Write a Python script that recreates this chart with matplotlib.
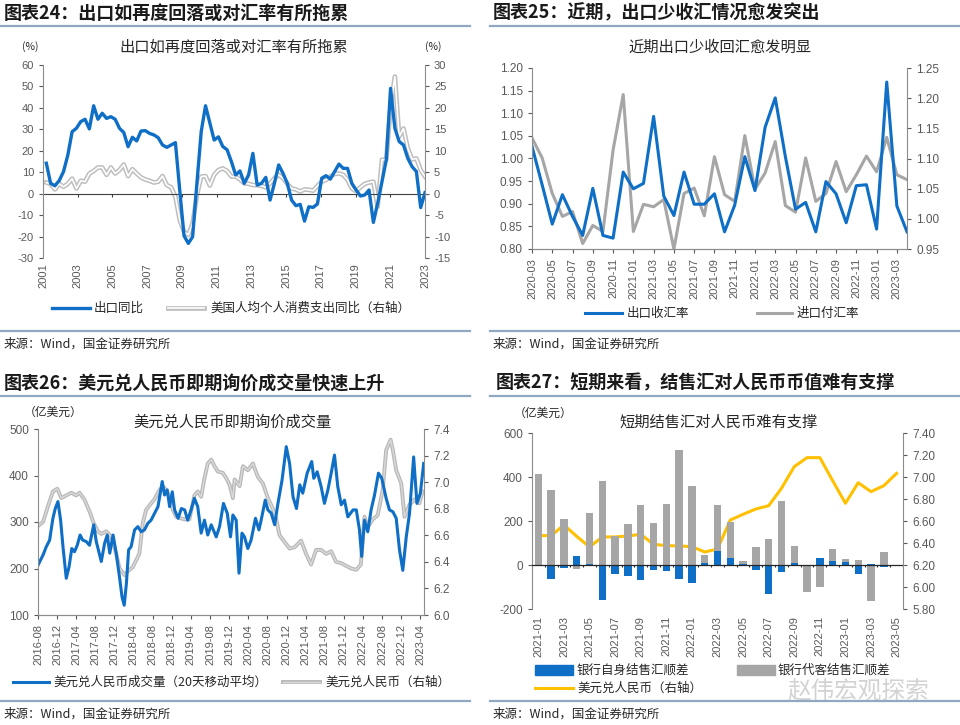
import matplotlib
matplotlib.use('Agg')
import matplotlib.pyplot as plt
import numpy as np
from matplotlib.lines import Line2D
from matplotlib.patches import Rectangle
from matplotlib.ticker import FormatStrFormatter

plt.rcParams['font.family'] = ['Liberation Sans', 'Noto Sans CJK SC']
plt.rcParams['axes.unicode_minus'] = False

# ---------------- 图表24 data (quarterly, 2001Q1 - 2023Q1)
year_labels = [str(y) for y in range(2001, 2024, 2)]
export_yoy = [14.2, 4.8, 3.7, 6.1, 10.3, 18.0, 28.9, 30.5, 33.6, 34.7,
              30.2, 41.0, 34.7, 37.5, 35.1, 35.9, 34.7, 30.5, 28.5, 21.9,
              26.3, 24.6, 29.2, 29.4, 28.1, 27.4, 26.1, 22.7, 21.6, 22.7,
              23.8, 1.7, -19.6, -23.2, -20.1, 5.0, 29.0, 41.0, 33.0, 25.0,
              26.5, 22.0, 20.5, 15.0, 8.7, 10.6, 4.8, 8.7, 18.8, 4.0,
              4.8, 7.6, -3.0, 4.8, 13.4, 9.5, 4.8, -3.0, -5.6, -5.0,
              -12.8, -6.1, -6.4, -4.8, 7.2, 8.4, 6.8, 10.3, 13.8, 11.8,
              11.8, 4.8, 1.7, -1.1, -0.6, 1.7, -13.4, -4.5, 5.6, 15.7,
              49.1, 30.5, 24.3, 22.7, 16.5, 12.6, 10.3, -6.5, 0.5]
us_pce_yoy = [2.6, 2.3, 1.0, 2.3, 1.6, 2.3, 3.5, 1.2, 3.0, 2.8,
              4.7, 5.3, 6.1, 6.1, 4.4, 6.1, 4.7, 5.5, 6.8, 4.1,
              5.7, 4.7, 3.8, 3.3, 3.0, 2.6, 2.8, 4.1, 2.0, 1.5,
              -0.7, -6.1, -8.9, -9.6, -6.9, -0.3, 4.0, 4.1, 1.9, 4.4,
              5.5, 5.9, 5.3, 4.0, 4.0, 3.3, 2.4, 2.3, 2.0, 2.0,
              1.8, 1.5, 2.4, 3.6, 4.4, 3.6, 2.3, 1.2, 1.0, 0.5,
              1.0, 0.9, 0.7, 1.8, 2.8, 3.2, 4.0, 4.6, 4.7, 4.4,
              3.2, 1.2, 0.6, 1.5, 2.3, 2.6, 2.8, -3.0, 7.9, 7.9,
              20.3, 27.3, 13.3, 15.2, 10.6, 8.0, 8.2, 5.5, 4.0]

# ---------------- 图表25 data (monthly, 2020-03 - 2023-04)
months25 = ['2020-03', '2020-04', '2020-05', '2020-06', '2020-07', '2020-08', '2020-09', '2020-10',
            '2020-11', '2020-12', '2021-01', '2021-02', '2021-03', '2021-04', '2021-05', '2021-06',
            '2021-07', '2021-08', '2021-09', '2021-10', '2021-11', '2021-12', '2022-01', '2022-02',
            '2022-03', '2022-04', '2022-05', '2022-06', '2022-07', '2022-08', '2022-09', '2022-10',
            '2022-11', '2022-12', '2023-01', '2023-02', '2023-03', '2023-04']
export_recv = [1.027, 0.942, 0.855, 0.920, 0.872, 0.830, 0.934, 0.830, 0.824, 0.970,
               0.933, 0.945, 1.093, 0.917, 0.874, 0.970, 0.899, 0.899, 0.922, 0.838,
               0.897, 1.004, 0.929, 1.069, 1.134, 1.004, 0.888, 0.903, 0.838, 0.949,
               0.922, 0.858, 0.940, 0.942, 0.844, 1.169, 0.895, 0.838]
import_pay = [1.134, 1.101, 1.042, 1.004, 1.012, 0.959, 0.989, 0.979, 1.114, 1.206,
              0.979, 1.024, 1.020, 1.032, 0.950, 1.042, 1.051, 1.005, 1.103, 1.040,
              1.029, 1.138, 1.049, 1.076, 1.128, 1.022, 1.011, 1.101, 1.029, 1.042,
              1.095, 1.045, 1.073, 1.104, 1.078, 1.135, 1.073, 1.065]

# ---------------- 图表26 data
vol_dates = ['2016-08-01', '2016-09-02', '2016-09-23', '2016-10-14', '2016-11-04', '2016-11-19',
             '2016-12-06', '2016-12-23', '2017-01-07', '2017-01-28', '2017-02-15', '2017-03-04',
             '2017-03-21', '2017-04-08', '2017-04-26', '2017-05-13', '2017-06-04', '2017-06-25',
             '2017-07-22', '2017-08-07', '2017-09-08', '2017-09-29', '2017-10-16', '2017-11-01',
             '2017-11-22', '2017-12-12', '2018-01-03', '2018-01-18', '2018-02-01', '2018-02-15',
             '2018-03-01', '2018-03-17', '2018-04-08', '2018-04-29', '2018-05-20', '2018-06-10',
             '2018-07-01', '2018-07-22', '2018-09-04', '2018-10-01', '2018-10-16', '2018-11-02',
             '2018-11-17', '2018-12-04', '2018-12-19', '2019-01-10', '2019-01-31', '2019-02-21',
             '2019-03-12', '2019-04-03', '2019-04-24', '2019-05-15', '2019-06-06', '2019-06-27',
             '2019-07-18', '2019-08-09', '2019-09-10', '2019-10-01', '2019-10-26', '2019-11-19',
             '2019-12-10', '2019-12-25', '2020-01-15', '2020-02-02', '2020-02-21', '2020-03-08',
             '2020-03-29', '2020-04-19', '2020-05-17', '2020-06-08', '2020-06-22', '2020-07-18',
             '2020-08-04', '2020-08-25', '2020-09-16', '2020-10-07', '2020-11-02', '2020-11-29',
             '2020-12-20', '2021-01-11', '2021-02-02', '2021-02-23', '2021-03-14', '2021-04-11',
             '2021-05-10', '2021-05-23', '2021-06-14', '2021-07-09', '2021-07-30', '2021-08-21',
             '2021-09-11', '2021-10-02', '2021-10-23', '2021-11-14', '2021-12-05', '2021-12-26',
             '2022-01-28', '2022-02-18', '2022-03-10', '2022-03-24', '2022-04-11', '2022-05-02',
             '2022-05-23', '2022-06-14', '2022-07-09', '2022-07-30', '2022-08-27', '2022-09-17',
             '2022-10-09', '2022-10-30', '2022-11-20', '2022-12-11', '2023-01-02', '2023-01-23',
             '2023-02-18', '2023-03-11', '2023-04-02', '2023-04-23']
spot_volume = [207, 229, 247, 261, 308, 329, 344, 304, 247, 179, 204, 243, 236, 250, 272, 261,
               258, 250, 294, 258, 215, 254, 272, 233, 272, 233, 179, 139, 121, 168, 240, 247,
               283, 290, 279, 283, 297, 304, 333, 387, 358, 369, 333, 365, 326, 308, 329, 326,
               304, 326, 351, 333, 276, 304, 272, 294, 268, 290, 340, 319, 268, 315, 304, 190,
               276, 268, 243, 261, 308, 283, 304, 347, 326, 319, 294, 340, 390, 462, 426, 354,
               329, 380, 362, 405, 430, 394, 408, 376, 340, 369, 405, 444, 376, 337, 347, 311,
               326, 326, 283, 226, 304, 279, 326, 358, 405, 394, 351, 326, 322, 308, 240, 196,
               268, 319, 440, 340, 362, 426]
fx_dates = ['2016-08-01', '2016-09-02', '2016-10-04', '2016-11-04', '2016-12-02', '2016-12-27',
            '2017-01-28', '2017-03-01', '2017-04-01', '2017-04-22', '2017-05-23', '2017-06-25',
            '2017-07-22', '2017-08-17', '2017-09-08', '2017-10-09', '2017-11-11', '2017-12-12',
            '2018-01-03', '2018-02-04', '2018-02-25', '2018-03-27', '2018-04-17', '2018-05-08',
            '2018-05-30', '2018-06-20', '2018-07-22', '2018-08-12', '2018-09-08', '2018-10-05',
            '2018-10-26', '2018-11-17', '2018-12-08', '2018-12-29', '2019-01-19', '2019-02-21',
            '2019-03-23', '2019-04-24', '2019-05-15', '2019-06-06', '2019-06-27', '2019-07-18',
            '2019-08-09', '2019-08-30', '2019-09-20', '2019-10-22', '2019-11-13', '2019-12-04',
            '2019-12-25', '2020-01-05', '2020-02-06', '2020-02-27', '2020-03-29', '2020-04-30',
            '2020-06-01', '2020-07-03', '2020-08-04', '2020-09-05', '2020-09-26', '2020-10-17',
            '2020-11-18', '2020-12-20', '2021-01-21', '2021-03-03', '2021-04-04', '2021-05-06',
            '2021-06-07', '2021-07-09', '2021-08-10', '2021-09-11', '2021-10-12', '2021-11-14',
            '2021-12-15', '2022-01-17', '2022-02-18', '2022-03-19', '2022-04-11', '2022-05-02',
            '2022-06-03', '2022-07-04', '2022-08-05', '2022-08-27', '2022-09-24', '2022-10-09',
            '2022-10-30', '2022-12-01', '2022-12-22', '2023-01-23', '2023-02-24', '2023-03-26',
            '2023-04-16']
usdcny_daily = [6.67, 6.70, 6.82, 6.93, 6.95, 6.88, 6.90, 6.92, 6.90, 6.92,
                6.87, 6.78, 6.69, 6.63, 6.61, 6.63, 6.59, 6.46, 6.35, 6.30,
                6.33, 6.36, 6.41, 6.46, 6.69, 6.79, 6.84, 6.87, 6.93, 6.97,
                6.94, 6.89, 6.79, 6.74, 6.73, 6.72, 6.72, 6.90, 6.93, 6.89,
                7.03, 7.14, 7.17, 7.12, 7.08, 7.07, 7.03, 6.98, 6.88, 7.02,
                6.97, 7.12, 7.09, 7.14, 7.04, 6.99, 6.88, 6.80, 6.72, 6.60,
                6.55, 6.50, 6.51, 6.56, 6.46, 6.38, 6.49, 6.49, 6.46, 6.48,
                6.40, 6.39, 6.37, 6.35, 6.34, 6.38, 6.74, 6.66, 6.72, 6.75,
                6.94, 7.24, 7.32, 7.24, 7.09, 6.99, 6.74, 6.83, 6.87, 6.84, 6.93]

# ---------------- 图表27 data (monthly, 2021-01 - 2023-05)
months27 = ['2021-01', '2021-02', '2021-03', '2021-04', '2021-05', '2021-06', '2021-07', '2021-08',
            '2021-09', '2021-10', '2021-11', '2021-12', '2022-01', '2022-02', '2022-03', '2022-04',
            '2022-05', '2022-06', '2022-07', '2022-08', '2022-09', '2022-10', '2022-11', '2022-12',
            '2023-01', '2023-02', '2023-03', '2023-04', '2023-05']
bank_own = [0, -62, -14, 39, 6, -158, -39, -51, -67, -24, -27, -65, -82, 11,
            62, 32, 6, -23, -130, -32, 8, 0, 33, 17, 14, -42, 3, -7]
bank_client = [415, 342, 208, -18, 236, 380, 130, 185, 274, 190, 279, 521, 359, 47,
               274, 195, 20, 80, 118, 292, 86, -124, -98, 74, 29, 21, -165, 61]
usdcny_month = [6.467, 6.467, 6.564, 6.46, 6.364, 6.455, 6.455, 6.464, 6.479, 6.388,
                6.376, 6.373, 6.367, 6.318, 6.345, 6.609, 6.661, 6.709, 6.739, 6.897,
                7.094, 7.176, 7.176, 6.967, 6.761, 6.948, 6.867, 6.921, 7.033]

BLUE = '#0F6FC6'
GRAY = '#A6A6A6'
LGRAY = '#BEBEBE'
YELLOW = '#FFC000'
TICK = '#595959'
SPINE = '#8C8C8C'
RULE = '#8EA9C1'
CJK = ['Noto Sans CJK SC', 'DejaVu Sans']

W, H = 960, 725
fig = plt.figure(figsize=(9.6, 7.25), dpi=100)


def box(l, t, r, b):
    return [l / W, 1 - b / H, (r - l) / W, (b - t) / H]


def ftxt(x, y, s, **kw):
    kw.setdefault('va', 'center')
    kw.setdefault('family', CJK)
    kw.setdefault('color', '#262626')
    fig.text(x / W, 1 - y / H, s, **kw)


def fline(x0, x1, y, **kw):
    fig.add_artist(Line2D([x0 / W, x1 / W], [1 - y / H, 1 - y / H], **kw))


def frame(ax, axr, size=8.5):
    for a in (ax, axr):
        a.spines['top'].set_visible(False)
        for s in ('left', 'right', 'bottom'):
            a.spines[s].set_color(SPINE)
            a.spines[s].set_linewidth(0.8)
        a.tick_params(colors=TICK, labelsize=size, length=3, width=0.8)
    ax.spines['right'].set_visible(False)
    axr.spines['left'].set_visible(False)
    ax.set_zorder(axr.get_zorder() + 1)
    ax.patch.set_visible(False)


def heading(x, y, s, x0, x1):
    ftxt(x, y, s, fontsize=13, fontweight='bold', style='italic', color='#1a1a1a')
    fline(x0, x1, y + 13, color=RULE, lw=1.6)


def source(x, y, x0, x1):
    fline(x0, x1, y - 13, color=RULE, lw=1.6)
    ftxt(x, y, '来源：Wind，国金证券研究所', fontsize=9)


# ================= 图表24
heading(4, 13, '图表24：出口如再度回落或对汇率有所拖累', 0, 470)
ax1 = fig.add_axes(box(43, 65, 425, 258))
ax1r = ax1.twinx()
frame(ax1, ax1r, 8)
x1 = np.arange(len(export_yoy))
ax1r.plot(x1, us_pce_yoy, color=LGRAY, lw=3.4)
ax1r.plot(x1, us_pce_yoy, color='white', lw=1.2)
ax1.plot(x1, export_yoy, color=BLUE, lw=2.4, zorder=3)
ax1.set_ylim(-30, 60)
ax1.set_yticks(range(-30, 61, 10))
ax1r.set_ylim(-15, 30)
ax1r.set_yticks(range(-15, 31, 5))
ax1.set_xlim(-0.77, 88.0)
yr_pos = np.linspace(-0.77, 88.0, len(year_labels))
ax1.set_xticks(yr_pos)
ax1.set_xticklabels(year_labels, rotation=90)
ax1.tick_params(axis='x', length=0, pad=4)
ax1.spines['bottom'].set_visible(False)
ax1r.spines['bottom'].set_visible(False)
ax1.axhline(0, color='#404040', lw=0.8)
ax1.vlines(yr_pos[1:-1], -1.5, 0, color='#404040', lw=0.8)
ftxt(234, 47, '出口如再度回落或对汇率有所拖累', ha='center', fontsize=11)
ftxt(30, 47, '(%)', ha='center', fontsize=7.5)
ftxt(433, 47, '(%)', ha='center', fontsize=7.5)
fline(52, 90, 308, color=BLUE, lw=2.4)
ftxt(94, 308, '出口同比', fontsize=9)
fline(168, 204, 308, color=LGRAY, lw=3.4)
fline(168, 204, 308, color='white', lw=1.2)
ftxt(210, 308, '美国人均个人消费支出同比（右轴）', fontsize=9)
source(4, 344, 0, 470)

# ================= 图表25
heading(493, 13, '图表25：近期，出口少收汇情况愈发突出', 490, 960)
ax2 = fig.add_axes(box(532, 68, 907, 249))
ax2r = ax2.twinx()
frame(ax2, ax2r)
x2 = np.arange(len(months25))
ax2r.plot(x2, import_pay, color=GRAY, lw=2.2)
ax2.plot(x2, export_recv, color=BLUE, lw=2.2)
ax2.set_xlim(0, len(months25) - 1)
ax2.set_ylim(0.80, 1.20)
ax2.set_yticks(np.arange(0.80, 1.2001, 0.05))
ax2.yaxis.set_major_formatter(FormatStrFormatter('%.2f'))
ax2r.set_ylim(0.95, 1.25)
ax2r.set_yticks(np.arange(0.95, 1.2501, 0.05))
ax2r.yaxis.set_major_formatter(FormatStrFormatter('%.2f'))
ax2.set_xticks(x2[::2])
ax2.set_xticklabels(months25[::2], rotation=90)
ax2.tick_params(axis='x', labelsize=8)
ftxt(720, 47, '近期出口少收回汇愈发明显', ha='center', fontsize=11)
fline(585, 622, 313, color=BLUE, lw=2.2)
ftxt(627, 313, '出口收汇率', fontsize=9)
fline(757, 792, 313, color=GRAY, lw=2.2)
ftxt(797, 313, '进口付汇率', fontsize=9)
source(493, 344, 490, 960)

# ================= 图表26
heading(4, 383, '图表26：美元兑人民币即期询价成交量快速上升', 0, 470)
ax3 = fig.add_axes(box(38, 429, 424, 615))
ax3r = ax3.twinx()
frame(ax3, ax3r)
vd = np.array(vol_dates, dtype='datetime64[D]')
fd = np.array(fx_dates, dtype='datetime64[D]')
ax3r.plot(fd, usdcny_daily, color='#B8B8B8', lw=2.8)
ax3r.plot(fd, usdcny_daily, color='#DADADA', lw=1.0)
ax3.plot(vd, spot_volume, color=BLUE, lw=2.2)
ax3.set_ylim(100, 500)
ax3.set_yticks(range(100, 501, 100))
ax3r.set_ylim(6.0, 7.4)
ax3r.set_yticks(np.arange(6.0, 7.401, 0.2))
ax3r.yaxis.set_major_formatter(FormatStrFormatter('%.1f'))
tick_m = np.arange(np.datetime64('2016-08'), np.datetime64('2023-05'), 4)
ax3.set_xticks(tick_m.astype('datetime64[D]'))
ax3.set_xticklabels([str(m) for m in tick_m], rotation=90)
ax3.tick_params(axis='x', labelsize=8)
ax3.set_xlim(np.datetime64('2016-08-01'), np.datetime64('2023-04-25'))
ftxt(232, 422, '美元兑人民币即期询价成交量', ha='center', fontsize=11)
ftxt(24, 412, '（亿美元）', fontsize=8.5)
fline(13, 49, 682, color=BLUE, lw=2.2)
ftxt(53, 682, '美元兑人民币成交量（20天移动平均）', fontsize=9)
fline(283, 320, 682, color='#B8B8B8', lw=2.8)
fline(283, 320, 682, color='#DADADA', lw=1.0)
ftxt(325, 682, '美元兑人民币（右轴）', fontsize=9)
source(4, 714, 0, 470)

# ================= 图表27
heading(496, 383, '图表27：短期来看，结售汇对人民币币值难有支撑', 490, 960)
ax4 = fig.add_axes(box(532, 433, 903, 609))
ax4r = ax4.twinx()
frame(ax4, ax4r)
x4 = np.arange(len(months27))
nb = len(bank_client)
ax4.bar(x4[:nb], bank_client, width=0.58, color=GRAY, zorder=2)
ax4.bar(x4[:nb], bank_own, width=0.58, color=BLUE, zorder=3)
ax4.axhline(0, color='#262626', lw=0.9, zorder=4)
ax4.vlines(np.arange(-0.5, len(months27), 1)[1:], -8, 0, color='#262626', lw=0.8, zorder=4)
ax4r.plot(x4, usdcny_month, color=YELLOW, lw=2.2)
ax4.set_xlim(-0.5, len(months27) - 0.5)
ax4.set_ylim(-200, 600)
ax4.set_yticks(range(-200, 601, 200))
ax4r.set_ylim(5.8, 7.4)
ax4r.set_yticks(np.arange(5.8, 7.401, 0.2))
ax4r.yaxis.set_major_formatter(FormatStrFormatter('%.2f'))
ax4.set_xticks(x4[::2])
ax4.set_xticklabels(months27[::2], rotation=90)
ax4.tick_params(axis='x', length=0, labelsize=8, pad=5)
ax4.spines['bottom'].set_visible(False)
ax4r.spines['bottom'].set_visible(False)
ftxt(719, 422, '短期结售汇对人民币难有支撑', ha='center', fontsize=11)
ftxt(514, 413, '（亿美元）', fontsize=8.5)
fig.add_artist(Rectangle((535 / W, 1 - 675 / H), 38 / W, 10 / H, color=BLUE))
ftxt(577, 670, '银行自身结售汇顺差', fontsize=9)
fig.add_artist(Rectangle((737 / W, 1 - 675 / H), 38 / W, 10 / H, color=GRAY))
ftxt(778, 670, '银行代客结售汇顺差', fontsize=9)
fline(535, 573, 688, color=YELLOW, lw=2.2)
ftxt(577, 688, '美元兑人民币（右轴）', fontsize=9)
ftxt(858, 691, '赵伟宏观探索', ha='center', fontsize=17, color='#C4C4C4', alpha=0.75)
source(493, 714, 490, 960)

fig.savefig('out.png', dpi=100)
